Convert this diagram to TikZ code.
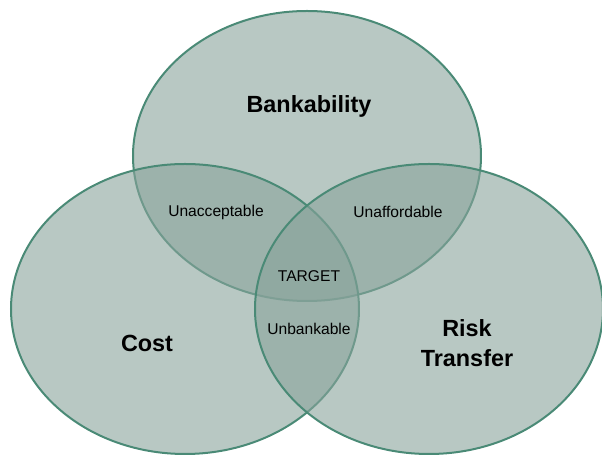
\documentclass[tikz,border=0pt]{standalone}
\usepackage{fontspec}
\setmainfont{Liberation Sans}
\usepackage{xcolor}
\usepackage{tikz}
\usetikzlibrary{positioning}
\definecolor{VennFill}{RGB}{137,163,155}
\definecolor{VennLine}{RGB}{74,138,118}

\begin{document}
\begin{tikzpicture}[x=0.5pt,y=0.5pt]
  \path[use as bounding box] (0,0) rectangle (602,455);

  % three sets: bankability on top, cost left, risk transfer right
  \foreach \cx/\cy in {307/299,185/146,429/146}{
    \draw[VennLine, line width=1pt, fill=VennFill, fill opacity=0.6]
      (\cx,\cy) ellipse [x radius=174, y radius=145];
  }

  \node[font=\fontsize{11.7}{15}\selectfont\bfseries] (bank) at (309,349) {Bankability};
  \node[font=\fontsize{11.7}{15}\selectfont\bfseries] (cost) at (147,112) {Cost};
  \node[font=\fontsize{11.7}{15}\selectfont\bfseries, align=center] (risk) at (467,112) {Risk\\Transfer};

  \node[font=\fontsize{7.8}{9}\selectfont] (unacc) at (216,243) {Unacceptable};
  \node[font=\fontsize{7.8}{9}\selectfont] (unaff) at (398,243) {Unaffordable};
  \node[font=\fontsize{7.8}{9}\selectfont] (target) at (309,179) {TARGET};
  \node[font=\fontsize{7.8}{9}\selectfont] (unbank) at (309,126) {Unbankable};
\end{tikzpicture}
\end{document}
